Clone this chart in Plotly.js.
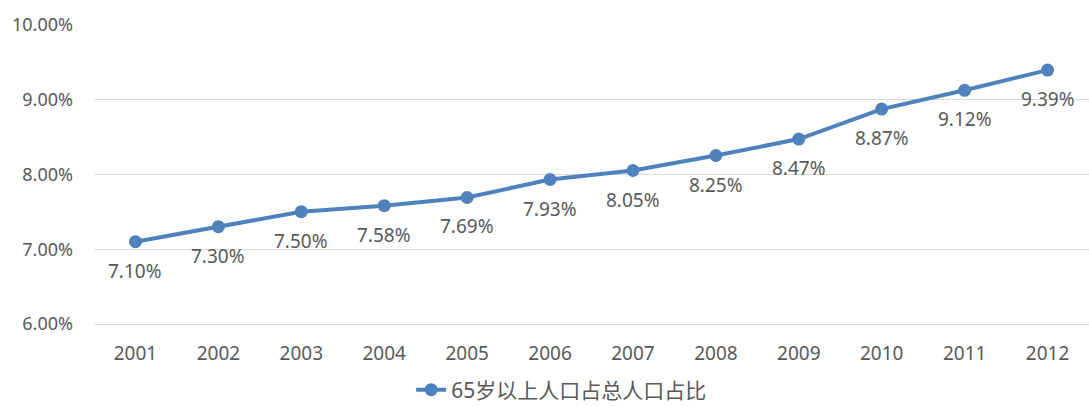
<!DOCTYPE html>
<html><head><meta charset="utf-8">
<script src="https://cdn.plot.ly/plotly-3.0.1.min.js"></script>
<style>body{margin:0;padding:0;background:#fff}#chart{width:1089px;height:407px}</style>
</head><body><div id="chart"></div>
<script>
const years = ['2001','2002','2003','2004','2005','2006','2007','2008','2009','2010','2011','2012'];
const ratio = [7.10,7.30,7.50,7.58,7.69,7.93,8.05,8.25,8.47,8.87,9.12,9.39];
const seriesName = '65岁以上人口占总人口占比';
const yTicks = [6,7,8,9,10];
const yTickText = ['6.00%','7.00%','8.00%','9.00%','10.00%'];

const lineColor = '#4f81bd';
const font = "'Noto Sans', 'Noto Sans CJK SC', sans-serif";

const annotations = years.map((y,i)=>({
  x: i, y: ratio[i], xref:'x', yref:'y',
  text: ratio[i].toFixed(2)+'%', showarrow:false, yshift:-29,
  font:{family:font, size:19, color:'#595959'}
}));

Plotly.newPlot('chart',[{
  x: years, y: ratio, type:'scatter', mode:'lines+markers', name: seriesName,
  line:{color:lineColor, width:4},
  marker:{color:lineColor, size:13}
}],{
  width:1089, height:407,
  margin:{l:94,r:0,t:24,b:81, autoexpand:false},
  paper_bgcolor:'#fff', plot_bgcolor:'#fff',
  font:{family:font, color:'#595959', size:18},
  xaxis:{type:'category', range:[-0.5,11.5], showgrid:false, zeroline:false, showline:false, ticks:'', ticklabelstandoff:14, tickfont:{size:19, color:'#595959'}},
  yaxis:{range:[5.975,10.005], tickvals:yTicks, ticktext:yTickText, showgrid:true, gridcolor:'#d9d9d9', gridwidth:1, zeroline:false, showline:false, ticks:'', ticklabelstandoff:20, tickfont:{size:18,color:'#595959'}},
  showlegend:true,
  legend:{orientation:'h', x:0.47, xanchor:'center', y:-0.28, yanchor:'bottom', font:{size:21,color:'#595959'}},
  annotations: annotations
},{displayModeBar:false});
</script></body></html>
